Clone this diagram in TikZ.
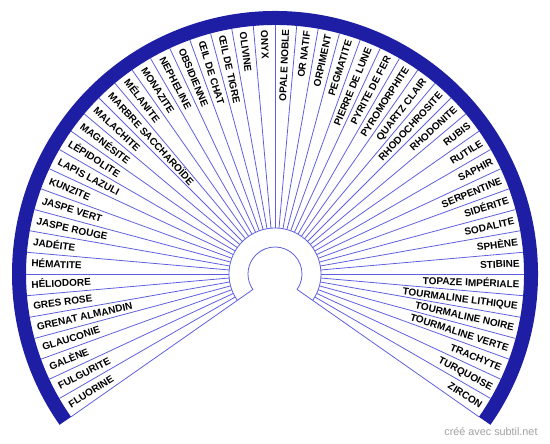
\documentclass[tikz,border=0pt]{standalone}
\usepackage{fontspec}
\setmainfont{Liberation Sans}
\definecolor{bandblue}{RGB}{30,30,165}
\definecolor{spokeblue}{RGB}{95,95,225}
\definecolor{creditgray}{RGB}{160,160,160}
\begin{document}
\begin{tikzpicture}[
    x=1pt, y=1pt,
    band/.style={draw=bandblue, line width=14pt},
    spoke/.style={draw=spokeblue, line width=0.8pt},
    lbl/.style={
        font=\bfseries\fontsize{10}{12}\selectfont,
        inner sep=0pt, text height=7.2pt, text depth=0pt
    },
    credit/.style={font=\fontsize{10.8}{12}\selectfont, text=creditgray}
]
\useasboundingbox (-275,-170) rectangle (275,274);

% ----------------------------------------------------------
% Aeusserer Ring (250 Grad, 50 Sektoren zu je 5 Grad)
% ----------------------------------------------------------
\draw[band] (-35:256) arc[start angle=-35, end angle=215, radius=256];

% Innere Boegen und Randlinien
\draw[spoke] (-35:249) -- (-35:27)
    arc[start angle=-35, end angle=215, radius=27] -- (215:249);
\draw[spoke] (-35:46) arc[start angle=-35, end angle=215, radius=46];

% Trennlinien zwischen den Sektoren
\foreach \k in {1,...,49} {
    \draw[spoke] ({-35+5*\k}:46) -- ({-35+5*\k}:249);
}

% ----------------------------------------------------------
% Beschriftung der Sektoren (gegen den Uhrzeigersinn)
% ----------------------------------------------------------
\foreach \name [count=\i] in {ZIRCON, TURQUOISE, TRACHYTE, TOURMALINE VERTE,
    TOURMALINE NOIRE, TOURMALINE LITHIQUE, TOPAZE IMPÉRIALE, STIBINE, SPHÈNE,
    SODALITE, SIDÉRITE, SERPENTINE, SAPHIR, RUTILE, RUBIS, RHODONITE,
    RHODOCHROSITE, QUARTZ CLAIR, PYROMORPHITE, PYRITE DE FER, PIERRE DE LUNE,
    PEGMATITE, ORPIMENT, OR NATIF, OPALE NOBLE, ONYX, OLIVINE, ŒIL DE TIGRE,
    ŒIL DE CHAT, OBSIDIENNE, NEPHELINE, MONAZITE, MÉLANITE, MARBRE SACCHAROÏDE,
    MALACHITE, MAGNÉSITE, LÉPIDOLITE, LAPIS LAZULI, KUNZITE, JASPE VERT,
    JASPE ROUGE, JADÉITE, HÉMATITE, HÉLIODORE, GRES ROSE, GRENAT ALMANDIN,
    GLAUCONIE, GALÈNE, FULGURITE, FLUORINE} {
    \pgfmathsetmacro\mid{-37.5+5*\i}
    \ifdim\mid pt<90pt
        \node[lbl, anchor=east, rotate=\mid] (m\i) at (\mid:245) {\name};
    \else
        \node[lbl, anchor=west, rotate=\mid+180] (m\i) at (\mid:244) {\name};
    \fi
}

\node[credit] (site) at (216,-158) {créé avec subtil.net};

\end{tikzpicture}
\end{document}
